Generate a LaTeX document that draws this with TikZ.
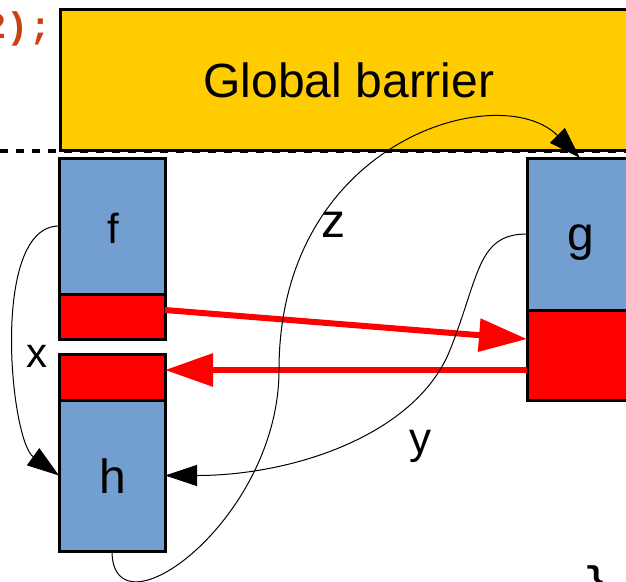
\documentclass[tikz,border=0pt]{standalone}
\usepackage{fontspec}
\setmainfont{Liberation Sans}
\setmonofont{Liberation Mono}
\usetikzlibrary{arrows.meta,calc}
\definecolor{barrierc}{HTML}{FFCC00}
\definecolor{lblue}{HTML}{729FCF}
\definecolor{pred}{HTML}{FF0000}
\definecolor{codec}{RGB}{200,65,15}
\begin{document}
\begin{tikzpicture}[x=1pt,y=-1pt,
  blk/.style={draw=black,line width=3pt,fill=lblue,inner sep=0pt,outer sep=0pt,anchor=north west},
  redbox/.style={blk,fill=pred},
  lab/.style={anchor=base,inner sep=0pt,font=\fontsize{#1}{#1}\selectfont},
  conn/.style={draw=black,line width=1pt},
  tipk/.style={-{Triangle[length=32pt,width=21pt]}},
  redarrow/.style={draw=pred,line width=6pt,-{Triangle[length=48pt,width=32pt]}}]
\useasboundingbox (0,0) rectangle (626,581);
% code fragments
\node[anchor=base east,inner sep=0pt,text=codec,font=\ttfamily\bfseries\fontsize{37}{37}\selectfont] (code) at (51.5,38) {2);};
\node[anchor=base,inner sep=0pt,font=\ttfamily\bfseries\fontsize{37}{37}\selectfont] (brace) at (596,592) {\}};
% barrier
\node[draw=black,line width=3pt,fill=barrierc,minimum width=577pt,minimum height=141pt,inner sep=0pt,anchor=north west,font=\fontsize{48}{48}\selectfont] (barrier) at (59,8) {Global barrier};
\coordinate (dl) at (0,150.5);
\coordinate (dr) at (626,150.5);
\draw[line width=4pt,dash pattern=on 8pt off 8pt] (dl) -- (dr);
% boxes
\node[blk,minimum width=106pt,minimum height=136pt] (f) at (59,158) {};
\node[redbox,minimum width=106pt,minimum height=45pt] (fr) at (59,294) {};
\node[redbox,minimum width=106pt,minimum height=46pt] (hr) at (59,354) {};
\node[blk,minimum width=106pt,minimum height=151pt] (h) at (59,400) {};
\node[blk,minimum width=113pt,minimum height=152pt] (g) at (527,158) {};
\node[redbox,minimum width=113pt,minimum height=90pt] (gr) at (527,310) {};
% red arrows
\draw[redarrow] ([yshift=6.5pt]fr.east) -- ([yshift=16pt]gr.west);
\draw[redarrow] ([yshift=-15pt]gr.west) -- ([yshift=7pt]hr.east);
% connectors
\coordinate (zm) at (279,370);
\coordinate (ym) at (450,350);
\draw[conn,tipk] (f.west) .. controls +(-69,0) and +(-49,-35.5) .. (h.west);
\draw[conn,tipk] (g.west) .. controls +(-50,0) and +(29.6,-74.4) .. (ym) .. controls +(-33.3,83.7) and +(130,0) .. (h.east);
\draw[conn,tipk] (h.south) .. controls +(0,90) and +(0,150) .. (zm) .. controls +(0,-230) and +(-80,-80) .. ([xshift=-3.5pt]g.north);
% labels
\node[lab=42] (lf) at (113,243) {f};
\node[lab=48] (lg) at (581,250) {g};
\node[lab=48] (lh) at (113,493) {h};
\node[lab=42] (lx) at (37,367) {x};
\node[lab=44] (ly) at (420,453) {y};
\node[lab=48] (lz) at (333,237) {z};
\end{tikzpicture}
\end{document}
